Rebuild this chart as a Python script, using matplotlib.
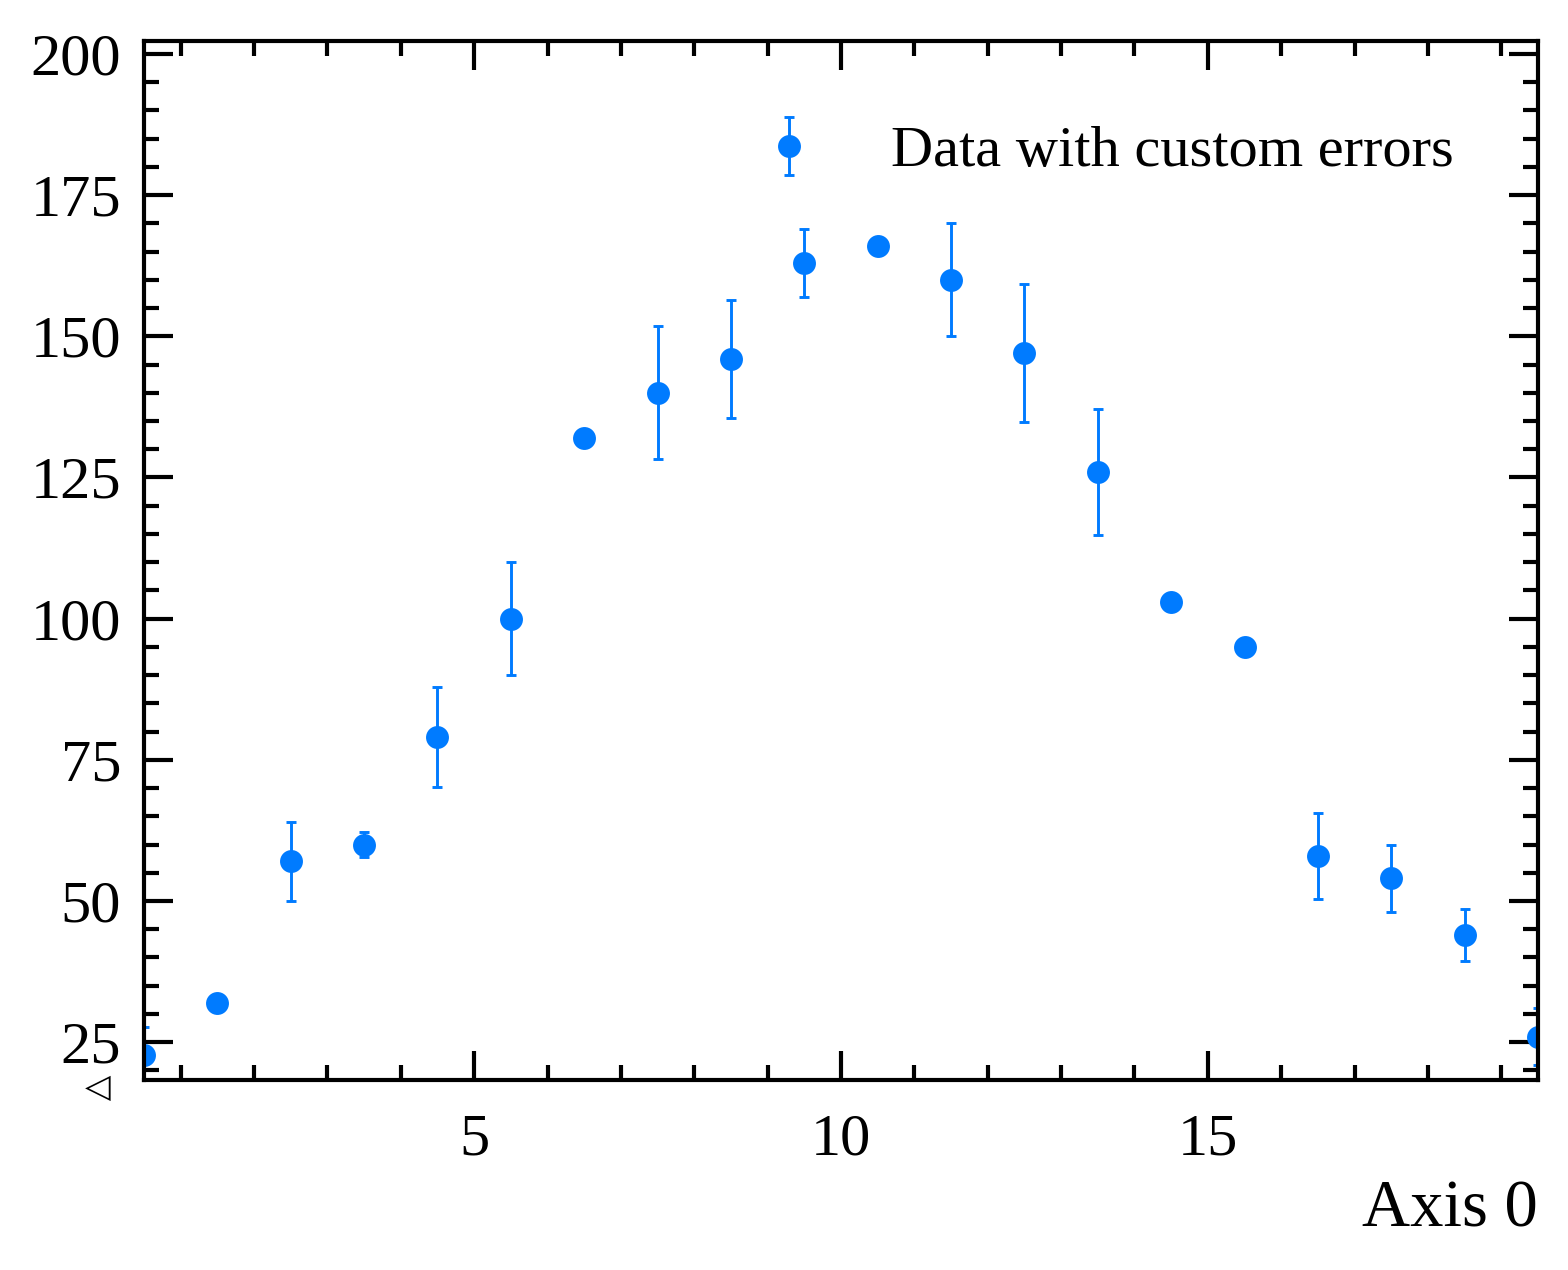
import numpy as np
import matplotlib
matplotlib.use("Agg")
import matplotlib.pyplot as plt
from matplotlib.ticker import MultipleLocator

# bin centres and values
x = np.arange(0.5, 20.0, 1.0)
counts = [22.7, 32, 57, 60, 79, 100, 132, 140, 146, 163,
          166, 160, 147, 126, 103, 95, 58, 54, 44, 26]
errors = [5, 0.8, 7, 2.2, 8.9, 10, 1, 11.8, 10.5, 6,
          1, 10, 12.2, 11.2, 0.5, 0.5, 7.6, 6, 4.6, 5]

plt.rcParams['font.family'] = ['Liberation Serif', 'DejaVu Serif']
plt.rcParams['font.size'] = 29

fig = plt.figure(figsize=(1568 / 150, 1270 / 150), dpi=150)
ax = fig.add_axes([144 / 1568, 1 - 1080 / 1270, (1538 - 144) / 1568, (1080 - 41) / 1270])

ax.errorbar(x, counts, yerr=errors, fmt='o', color='#007bff', markersize=10,
            elinewidth=1.4, capsize=2.6, capthick=1.4,
            label='Data with custom errors')

ax.set_xlim(0.5, 19.5)
ax.set_ylim(18.3, 202.3)
ax.xaxis.set_major_locator(MultipleLocator(5))
ax.xaxis.set_minor_locator(MultipleLocator(1))
ax.yaxis.set_major_locator(MultipleLocator(25))
ax.yaxis.set_minor_locator(MultipleLocator(5))

ax.tick_params(which='both', direction='in', top=True, right=True, width=2)
ax.tick_params(which='major', length=14)
ax.tick_params(which='minor', length=7)
ax.tick_params(axis='x', which='major', pad=16, labelsize=29)
ax.tick_params(axis='y', which='major', pad=11, labelsize=29)
for s in ax.spines.values():
    s.set_linewidth(2)

ax.set_xlabel('Axis 0', loc='right', fontsize=32, labelpad=6)
ax.legend(loc='upper right', frameon=False, fontsize=28, handletextpad=0.75,
          borderaxespad=0.85, borderpad=0.6)

fig.text(98 / 1568, 1 - 1087 / 1270, '\u25c1', fontsize=16, ha='center', va='center',
         family=['DejaVu Sans'])

fig.savefig('out.png', dpi=150)
